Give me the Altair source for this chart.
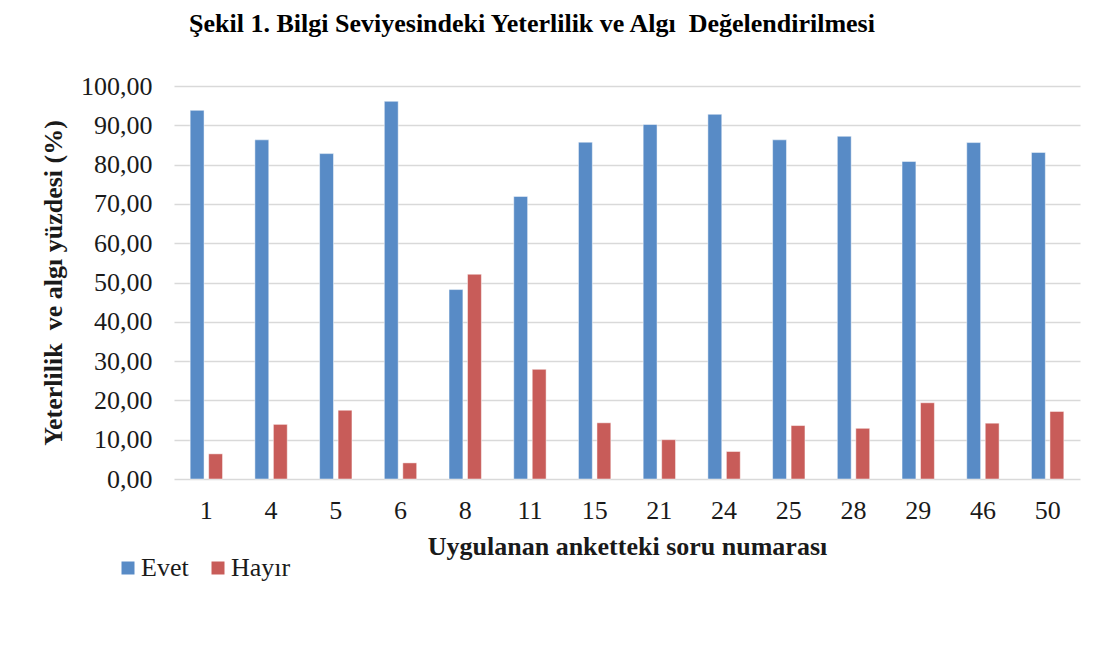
import altair as alt
import pandas as pd

questions = ["1", "4", "5", "6", "8", "11", "15", "21", "24", "25", "28", "29", "46", "50"]
evet = [93.8, 86.3, 82.8, 96.1, 48.2, 71.9, 85.7, 90.2, 92.8, 86.3, 87.2, 80.8, 85.6, 83.1]
hayir = [6.4, 13.9, 17.5, 4.1, 52.1, 27.9, 14.3, 10.0, 7.0, 13.6, 12.9, 19.4, 14.2, 17.2]
series = ["Evet", "Hayır"]
colors = ["#588BC6", "#C85C59"]
y_ticks = [0, 10, 20, 30, 40, 50, 60, 70, 80, 90, 100]

rows = []
for q, e, h in zip(questions, evet, hayir):
    rows.append({"soru": q, "seri": "Evet", "deger": e})
    rows.append({"soru": q, "seri": "Hayır", "deger": h})
df = pd.DataFrame(rows)

FONT = "Liberation Serif"
TXT = "#1a1a1a"
FS = 26

chart = (
    alt.Chart(df)
    .mark_bar(stroke="white", strokeWidth=0.8, strokeOpacity=0.6)
    .encode(
        x=alt.X(
            "soru:N",
            sort=questions,
            scale=alt.Scale(paddingInner=0.5, paddingOuter=0.25),
            axis=alt.Axis(
                title="Uygulanan anketteki soru numarası",
                labelAngle=0,
                ticks=False,
                domain=False,
                labelFont=FONT,
                labelFontSize=FS,
                labelColor=TXT,
                labelPadding=18,
                titleFont=FONT,
                titleFontSize=FS,
                titleFontWeight="bold",
                titleColor=TXT,
                titlePadding=10,
            ),
        ),
        xOffset=alt.XOffset("seri:N", sort=series, scale=alt.Scale(paddingInner=0.25)),
        y=alt.Y(
            "deger:Q",
            scale=alt.Scale(domain=[0, 100], nice=False),
            axis=alt.Axis(
                title="Yeterlilik\u00a0 ve algı yüzdesi (%)",
                values=y_ticks,
                labelExpr="replace(format(datum.value, '.2f'), '.', ',')",
                grid=True,
                gridColor="#d9d9d9",
                gridWidth=1.6,
                domain=False,
                ticks=False,
                labelFont=FONT,
                labelFontSize=FS,
                labelColor=TXT,
                labelPadding=22,
                titleFont=FONT,
                titleFontSize=FS,
                titleFontWeight="bold",
                titleColor=TXT,
                titlePadding=14,
            ),
        ),
        color=alt.Color(
            "seri:N",
            sort=series,
            scale=alt.Scale(domain=series, range=colors),
            legend=alt.Legend(
                orient="none",
                legendX=-59,
                legendY=469,
                direction="horizontal",
                title=None,
                symbolType="square",
                symbolSize=169,
                symbolStrokeWidth=0,
                labelFont=FONT,
                labelFontSize=FS,
                labelColor=TXT,
                labelOffset=0,
                columnPadding=16,
                padding=0,
            ),
        ),
    )
    .properties(
        width=906,
        height=393,
        background="white",
        title=alt.TitleParams(
            "Şekil 1. Bilgi Seviyesindeki Yeterlilik ve Algı\u00a0 Değelendirilmesi",
            font=FONT,
            fontSize=FS,
            fontWeight="bold",
            color="black",
            anchor="middle",
            dx=-95,
            offset=36,
        ),
        autosize=alt.AutoSizeParams(type="none"),
        padding={"left": 166, "top": 78, "right": 12, "bottom": 160},
    )
    .configure(font=FONT)
    .configure_view(strokeWidth=0)
    .configure_legend(labelFont=FONT, labelFontSize=FS, labelColor=TXT)
)

chart.save("out.html", embed_options={"renderer": "svg", "actions": False})
